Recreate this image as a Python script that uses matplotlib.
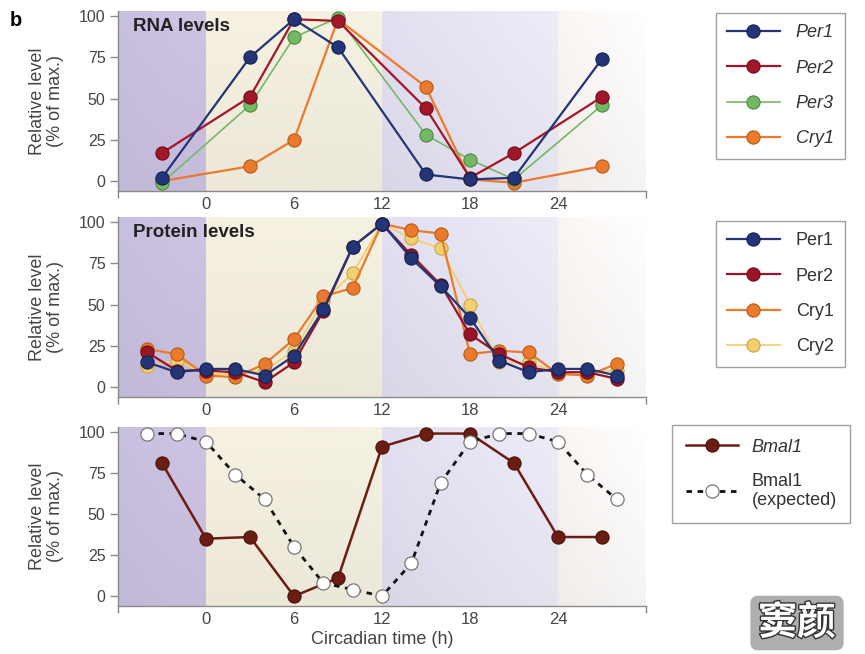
import matplotlib
matplotlib.use("Agg")
import matplotlib.pyplot as plt
import matplotlib.patheffects as pe
import numpy as np

plt.rcParams['font.family'] = ['Liberation Sans', 'DejaVu Sans']

# ---- data ----
rna_t = [-3, 3, 6, 9, 15, 18, 21, 27]
rna_per1 = [2, 75, 98, 81, 4, 1, 2, 74]
rna_per2 = [17, 51, 98, 97, 44, 2, 17, 51]
rna_per3 = [-1, 46, 87, 99, 28, 13, 1, 46]
rna_cry1 = [0, 9, 25, 98, 57, 1, -1, 9]

prot_t = [-4, -2, 0, 2, 4, 6, 8, 10, 12, 14, 16, 18, 20, 22, 24, 26, 28]
prot_per1 = [15, 9, 11, 11, 7, 19, 47, 85, 99, 78, 61, 42, 16, 9, 11, 11, 7]
prot_per2 = [21, 10, 10, 9, 3, 15, 46, 85, 99, 80, 62, 32, 20, 12, 9, 9, 5]
prot_cry1 = [23, 20, 7, 6, 14, 29, 55, 60, 99, 95, 93, 20, 22, 21, 8, 7, 14]
prot_cry2 = [13, 16, 8, 8, 10, 22, 52, 69, 99, 90, 84, 50, 15, 15, 9, 9, 10]

bmal_t = [-3, 0, 3, 6, 9, 12, 15, 18, 21, 24, 27]
bmal1 = [81, 35, 36, 0, 11, 91, 99, 99, 81, 36, 36]
exp_t = [-4, -2, 0, 2, 4, 6, 8, 10, 12, 14, 16, 18, 20, 22, 24, 26, 28]
bmal1_exp = [99, 99, 94, 74, 59, 30, 8, 4, 0, 20, 69, 94, 99, 99, 94, 74, 59]

xticks = [0, 6, 12, 18, 24]
yticks = [0, 25, 50, 75, 100]

W, H = 865, 654
fig = plt.figure(figsize=(W / 100, H / 100), dpi=100)

# background shading (light/dark phases)
xs = np.linspace(-6, 30, 720)
ys = np.linspace(-6, 103, 200)
stops_x = [-6, -0.01, 0, 12, 12.01, 24, 24.01, 30]
stops_c = np.array([
    [0.79, 0.75, 0.88], [0.81, 0.77, 0.89],
    [0.965, 0.945, 0.88], [0.965, 0.95, 0.89],
    [0.89, 0.875, 0.945], [0.93, 0.93, 0.975],
    [0.985, 0.965, 0.955], [1.0, 1.0, 1.0],
])
col = np.stack([np.interp(xs, stops_x, stops_c[:, k]) for k in range(3)], axis=1)
shade = 1 - 0.04 * (1 - (ys - ys.min()) / (ys.max() - ys.min()))
bg = np.clip(shade[:, None, None] * col[None, :, :], 0, 1)


def setup(ax):
    ax.imshow(bg, extent=(-6, 30, -6, 103), origin='lower', aspect='auto', zorder=0)
    ax.set_xlim(-6, 30)
    ax.set_ylim(-6, 103)
    for s in ['top', 'right']:
        ax.spines[s].set_visible(False)
    for s in ['left', 'bottom']:
        ax.spines[s].set_color('#8a8a8a')
        ax.spines[s].set_linewidth(1.0)
    ax.set_xticks(xticks)
    ax.set_xticks([-6, 30], minor=True)
    ax.set_yticks(yticks)
    ax.tick_params(axis='y', colors='#8a8a8a', labelcolor='#444444', labelsize=11.5,
                   length=6, width=1.0, pad=3)
    ax.tick_params(axis='x', which='major', length=0, labelcolor='#444444',
                   labelsize=12, pad=4)
    ax.tick_params(axis='x', which='minor', length=5, width=1.0, colors='#8a8a8a')
    ax.set_ylabel('Relative level\n(% of max.)', fontsize=13, color='#444444',
                  labelpad=11, linespacing=1.05)


left = 118 / W
width = (646 - 118) / W
tops = [11, 217, 427]
bottoms = [191, 397, 606]
axes = []
for t, b in zip(tops, bottoms):
    ax = fig.add_axes([left, 1 - b / H, width, (b - t) / H])
    setup(ax)
    axes.append(ax)


def series(ax, t, y, c, ec, lw=1.6, ms=9.5, z=3, **kw):
    return ax.plot(t, y, '-o', color=c, mfc=c, mec=ec, lw=lw, ms=ms, mew=0.8, zorder=z, **kw)[0]


def style_legend(leg):
    leg.get_frame().set_edgecolor('#8a8a8a')
    leg.get_frame().set_linewidth(1.0)
    for t in leg.get_texts():
        t.set_color('#333333')


legkw = dict(loc='upper left', bbox_transform=fig.transFigure, frameon=True, fancybox=False,
             handlelength=2.9, borderaxespad=0)

# RNA levels
ax = axes[0]
h_cry1 = series(ax, rna_t, rna_cry1, '#eb7a2c', '#b65a1a', z=3)
h_per3 = series(ax, rna_t, rna_per3, '#74b864', '#4d8a40', lw=1.2, z=4)
h_per2 = series(ax, rna_t, rna_per2, '#a3162a', '#6d0f18', z=5)
h_per1 = series(ax, rna_t, rna_per1, '#233477', '#15214f', z=6)
ax.text(-5, 99, 'RNA levels', fontsize=13.5, fontweight='bold', color='#222222', va='top')
leg = ax.legend([h_per1, h_per2, h_per3, h_cry1], ['Per1', 'Per2', 'Per3', 'Cry1'],
                bbox_to_anchor=(716 / W, 1 - 13 / H), borderpad=0.62, handletextpad=0.9,
                prop={'style': 'italic', 'size': 13}, labelspacing=1.02, **legkw)
style_legend(leg)

# Protein levels
ax = axes[1]
p_cry2 = series(ax, prot_t, prot_cry2, '#f2d070', '#c9a44a', lw=1.3, z=3)
p_cry1 = series(ax, prot_t, prot_cry1, '#eb7a2c', '#b65a1a', z=4)
p_per2 = series(ax, prot_t, prot_per2, '#9b1326', '#6d0f18', z=5)
p_per1 = series(ax, prot_t, prot_per1, '#233477', '#15214f', z=6)
ax.text(-5, 99, 'Protein levels', fontsize=13.5, fontweight='bold', color='#222222', va='top')
leg = ax.legend([p_per1, p_per2, p_cry1, p_cry2], ['Per1', 'Per2', 'Cry1', 'Cry2'],
                bbox_to_anchor=(716 / W, 1 - 221 / H), borderpad=0.62, handletextpad=0.9,
                prop={'size': 13}, labelspacing=1.02, **legkw)
style_legend(leg)

# Bmal1
ax = axes[2]
b1 = series(ax, bmal_t, bmal1, '#6b1d12', '#4a130b', lw=1.8, z=4)
b2 = ax.plot(exp_t, bmal1_exp, '--o', color='#111111', mfc='white', mec='#777777',
             lw=2.0, ms=9.5, mew=0.9, dashes=(2, 2), zorder=5)[0]
ax.set_xlabel('Circadian time (h)', fontsize=13, color='#444444', labelpad=3)
leg = ax.legend([b1, b2], ['Bmal1', 'Bmal1\n(expected)'],
                bbox_to_anchor=(672 / W, 1 - 425 / H), borderpad=0.75, handletextpad=0.75,
                prop={'size': 13}, labelspacing=0.95, **legkw)
style_legend(leg)
leg.get_texts()[0].set_style('italic')

fig.text(10 / W, 1 - 21 / H, 'b', fontsize=14.5, fontweight='bold', va='center')

# watermark
wm = fig.text(797 / W, 1 - 623 / H, '窦颜', fontsize=28, color='white', ha='center',
              va='center', family=['Noto Sans CJK SC', 'DejaVu Sans'], fontweight='bold',
              bbox=dict(boxstyle='round,pad=0.2', fc='#a0a0a0', ec='none', alpha=0.85))
wm.set_path_effects([pe.withStroke(linewidth=2, foreground='#333333')])

fig.savefig('out.png', dpi=100)
